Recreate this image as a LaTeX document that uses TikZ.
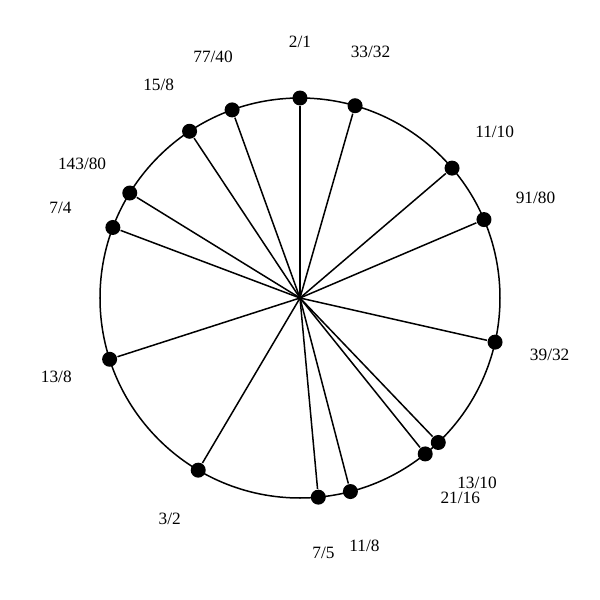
\documentclass[tikz,border=0pt]{standalone}
\usepackage{fontspec}
\setmainfont{Liberation Serif}
\begin{document}
\begin{tikzpicture}[line width=1.07pt,line join=round,
    dot/.style={circle,fill=black,inner sep=0pt,minimum size=0.375cm},
    ratio/.style={font=\fontsize{12.3}{14}\selectfont}]
      \useasboundingbox (-7.5,-7.55) rectangle (7.5,7.45);
      \coordinate (o) at (0,0);
      \draw (o) circle (5);
      % points on the circle
      \node[dot] (p2)   at (90:5)      {};
      \node[dot] (p33)  at (74.02:5)   {};
      \node[dot] (p11)  at (40.50:5)   {};
      \node[dot] (p91)  at (23.09:5)   {};
      \node[dot] (p39)  at (-12.75:5)  {};
      \node[dot] (p13)  at (-46.26:5)  {};
      \node[dot] (p21)  at (-51.23:5)  {};
      \node[dot] (p118) at (-75.40:5)  {};
      \node[dot] (p75)  at (-84.75:5)  {};
      \node[dot] (p32)  at (-120.59:5) {};
      \node[dot] (p138) at (-162.16:5) {};
      \node[dot] (p74)  at (159.35:5)  {};
      \node[dot] (p143) at (148.34:5)  {};
      \node[dot] (p158) at (123.52:5)  {};
      \node[dot] (p77)  at (109.85:5)  {};
      % spokes
      \draw (o)--(p2);
      \draw (o)--(p33);
      \draw (o)--(p11);
      \draw (o)--(p91);
      \draw (o)--(p39);
      \draw (o)--(p13);
      \draw (o)--(p21);
      \draw (o)--(p118);
      \draw (o)--(p75);
      \draw (o)--(p32);
      \draw (o)--(p138);
      \draw (o)--(p74);
      \draw (o)--(p143);
      \draw (o)--(p158);
      \draw (o)--(p77);
      % labels
      \node[ratio] (l2)   at (90:6.4)      {2/1};
      \node[ratio] (l33)  at (74.02:6.4)   {33/32};
      \node[ratio] (l11)  at (40.50:6.4)   {11/10};
      \node[ratio] (l91)  at (23.09:6.4)   {91/80};
      \node[ratio] (l39)  at (-12.75:6.4)  {39/32};
      \node[ratio] (l13)  at (-46.26:6.4)  {13/10};
      \node[ratio] (l21)  at (-51.23:6.4)  {21/16};
      \node[ratio] (l118) at (-75.40:6.4)  {11/8};
      \node[ratio] (l75)  at (-84.75:6.4)  {7/5};
      \node[ratio] (l32)  at (-120.59:6.4) {3/2};
      \node[ratio] (l138) at (-162.16:6.4) {13/8};
      \node[ratio] (l74)  at (159.35:6.4)  {7/4};
      \node[ratio] (l143) at (148.34:6.4)  {143/80};
      \node[ratio] (l158) at (123.52:6.4)  {15/8};
      \node[ratio] (l77)  at (109.85:6.4)  {77/40};
    \end{tikzpicture}
\end{document}
